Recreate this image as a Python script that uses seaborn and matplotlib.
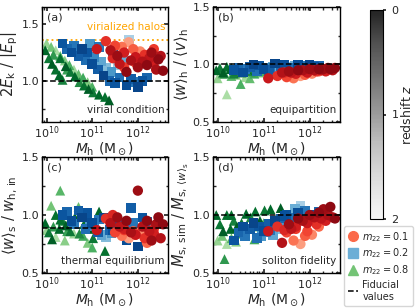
import numpy as np
import seaborn as sns
import matplotlib.pyplot as plt
from matplotlib.colors import ListedColormap
from matplotlib.lines import Line2D
from matplotlib.ticker import MultipleLocator
import matplotlib as mpl

# ---- data: log10 halo mass, redshift and the four ratios per species ----
green_logm = [9.97, 10.05, 10.12, 10.2, 10.28, 10.35,
              10.3, 10.42, 10.52, 10.62, 10.72, 10.82, 10.92, 11.02, 11.15, 11.28, 11.37,
              10.0, 10.1, 10.2, 10.3, 10.4, 10.5, 10.6, 10.7, 10.8, 10.9, 11.0,
              10.15, 10.45]
green_z = [0.1, 0.3, 0.0, 0.2, 0.1, 0.4,
           0.2, 0.0, 0.3, 0.1, 0.5, 0.2, 0.0, 0.3, 0.1, 0.2, 0.0,
           1.6, 1.3, 1.8, 1.1, 1.5, 1.0, 1.7, 1.2, 0.9, 1.4, 1.0,
           0.7, 0.8]
green_a = [1.27, 1.2, 1.15, 1.1, 1.05, 1.01,
           1.2, 1.13, 1.08, 1.04, 0.99, 0.96, 0.93, 0.9, 0.88, 0.86, 0.83,
           1.33, 1.3, 1.27, 1.22, 1.18, 1.14, 1.1, 1.06, 1.03, 0.99, 0.95,
           1.23, 1.1]
green_b = [0.95, 0.97, 0.93, 0.98, 0.96, 0.92,
           0.97, 0.95, 0.93, 0.96, 0.94, 0.95, 0.97, 0.96, 0.94, 0.95, 0.97,
           0.88, 0.92, 0.74, 0.9, 0.91, 0.83, 0.89, 0.88, 0.92, 0.93, 0.94,
           0.92, 0.94]
green_c = [0.93, 0.85, 0.79, 1.0, 0.88, 0.95,
           0.96, 0.91, 0.86, 0.98, 0.84, 0.92, 0.88, 0.8, 1.03, 0.69, 0.9,
           0.87, 1.08, 0.81, 1.21, 0.78, 0.95, 0.84, 1.07, 0.82, 0.76, 0.72,
           0.9, 0.86]
green_d = [1.0, 0.92, 0.86, 1.0, 0.88, 0.95,
           1.0, 0.9, 0.93, 1.01, 0.98, 1.03, 0.95, 1.04, 1.05, 0.97, 1.06,
           0.78, 0.82, 0.75, 0.8, 0.77, 0.86, 0.83, 0.88, 0.79, 0.9, 0.93,
           0.62, 0.84]

blue_logm = [10.35, 10.45, 10.55, 10.6, 10.7, 10.78, 10.85, 10.9, 11.0, 11.05,
             11.12, 11.2, 11.25, 11.3, 11.38, 11.42, 11.5, 11.55, 11.6, 11.68,
             11.75, 11.8, 11.85, 11.9, 12.0, 12.1, 11.15, 10.95, 11.45, 12.2]
blue_z = [0.2, 0.4, 0.1, 0.6, 0.3, 0.0, 0.5, 0.2, 0.1, 0.8,
          0.3, 1.2, 0.0, 1.5, 0.4, 1.0, 0.2, 1.7, 0.5, 1.3,
          0.1, 1.8, 0.3, 0.6, 0.0, 0.2, 0.6, 1.0, 0.15, 0.4]
blue_a = [1.33, 1.28, 1.25, 1.31, 1.22, 1.28, 1.18, 1.25, 1.15, 1.21,
          1.1, 1.17, 1.05, 1.12, 1.0, 1.08, 0.98, 1.14, 1.03, 1.2,
          0.96, 1.36, 1.02, 0.99, 0.95, 1.0, 1.3, 1.33, 1.26, 1.03]
blue_b = [0.95, 0.97, 0.93, 0.96, 0.98, 1.0, 0.94, 0.99, 0.96, 0.97,
          0.95, 0.98, 1.01, 0.97, 0.94, 0.99, 0.96, 0.98, 0.97, 0.99,
          1.0, 0.98, 0.96, 0.99, 1.0, 0.98, 0.95, 0.97, 1.0, 0.99]
blue_c = [1.0, 1.03, 0.95, 0.92, 1.04, 0.98, 0.88, 1.02, 0.93, 0.9,
          0.85, 0.83, 0.98, 0.81, 0.87, 0.84, 0.95, 0.86, 0.92, 0.88,
          0.78, 0.84, 1.06, 0.93, 0.73, 0.98, 0.96, 0.91, 0.87, 0.94]
blue_d = [0.78, 0.85, 0.9, 0.82, 0.88, 0.93, 0.8, 0.9, 0.86, 0.85,
          0.92, 0.83, 0.95, 0.88, 0.97, 0.9, 1.0, 0.93, 0.98, 1.05,
          1.02, 1.08, 0.96, 1.04, 0.98, 1.0, 0.87, 0.82, 0.99, 1.03]

red_logm = [11.1, 11.3, 11.4, 11.5, 11.55, 11.6, 11.65, 11.7, 11.75, 11.8,
            11.85, 11.9, 11.95, 12.0, 12.05, 12.1, 12.15, 12.2, 12.25, 12.3,
            12.35, 12.4, 12.45, 12.5, 12.55, 11.45, 11.7, 11.95, 12.2, 12.35]
red_z = [0.5, 0.8, 0.3, 1.0, 0.1, 0.4, 1.4, 0.6, 0.0, 1.8,
         0.2, 1.2, 0.5, 0.1, 1.6, 0.3, 0.8, 0.0, 0.4, 0.1,
         0.6, 0.2, 0.0, 0.3, 0.0, 0.7, 0.9, 1.0, 1.3, 0.9]
red_a = [1.28, 1.35, 1.27, 1.31, 1.22, 1.15, 1.3, 1.25, 1.08, 1.34,
         1.18, 1.28, 1.21, 1.12, 1.26, 1.17, 1.23, 1.14, 1.2, 1.25,
         1.16, 1.1, 1.19, 1.22, 1.09, 1.2, 1.12, 1.16, 1.22, 1.28]
red_b = [0.88, 0.9, 0.93, 0.89, 0.94, 0.93, 0.88, 0.92, 0.95, 0.9,
         0.95, 0.91, 0.93, 0.96, 0.92, 0.95, 0.94, 0.96, 0.95, 0.96,
         0.94, 0.97, 0.96, 0.95, 0.97, 0.93, 0.92, 0.93, 0.94, 0.95]
red_c = [0.87, 0.97, 0.93, 0.85, 0.98, 0.9, 0.82, 0.88, 0.95, 0.8,
         0.85, 0.86, 0.83, 1.21, 0.84, 0.9, 0.8, 0.95, 0.86, 0.78,
         0.84, 0.92, 0.98, 0.8, 0.92, 1.0, 0.87, 0.83, 0.76, 0.88]
red_d = [0.86, 0.9, 0.76, 0.85, 0.92, 0.88, 0.78, 0.9, 0.97, 0.75,
         0.95, 0.82, 0.93, 1.0, 0.83, 0.98, 0.92, 1.02, 0.97, 1.05,
         0.95, 1.0, 1.07, 0.98, 0.97, 0.87, 0.88, 0.86, 0.9, 1.0]

fiducial = [1.0, 1.0, 0.89, 1.0]
virialized = 1.36

panel_tags = ["(a)", "(b)", "(c)", "(d)"]
panel_notes = ["virial condition", "equipartition", "thermal equilibrium", "soliton fidelity"]
ylabels = [r"$2E_\mathrm{k}\ /\ |E_\mathrm{p}|$",
           r"$\langle w\rangle_\mathrm{h}\ /\ \langle v\rangle_\mathrm{h}$",
           r"$\langle w\rangle_\mathrm{s}\ /\ w_\mathrm{h,\,in}$",
           r"$M_\mathrm{s,\,sim}\ /\ M_{\mathrm{s},\,\langle w\rangle_\mathrm{s}}$"]


def trunc_cmap(name, hi=0.92, lo=0.28):
    # z = 0 -> dark end, z = 2 -> light end
    return ListedColormap(plt.get_cmap(name)(np.linspace(hi, lo, 256)))


sns.set_theme(style="ticks")
plt.rcParams.update({
    "font.family": ["DejaVu Sans"],
    "xtick.direction": "in", "ytick.direction": "in",
    "xtick.top": True, "ytick.right": True,
    "xtick.labelsize": 8, "ytick.labelsize": 8,
    "axes.linewidth": 1.0, "axes.edgecolor": "black",
    "mathtext.fontset": "dejavusans",
})

fig = plt.figure(figsize=(4.15, 3.08), dpi=100)
boxes = [[0.1012, 0.6039, 0.3036, 0.3734],
         [0.5133, 0.6039, 0.3060, 0.3734],
         [0.1012, 0.1136, 0.3036, 0.3766],
         [0.5133, 0.1136, 0.3060, 0.3766]]

groups = [
    (red_logm, red_z, [red_a, red_b, red_c, red_d], "Reds", "o", 55),
    (blue_logm, blue_z, [blue_a, blue_b, blue_c, blue_d], "Blues", "s", 48),
    (green_logm, green_z, [green_a, green_b, green_c, green_d], "Greens", "^", 50),
]

for k in range(4):
    ax = fig.add_axes(boxes[k])
    for logm, z, ys, cmap_name, mk, size in reversed(groups):
        order = np.argsort(z)[::-1]  # light (high z) first, dark on top
        x = 10 ** np.asarray(logm)[order]
        y = np.asarray(ys[k])[order]
        hz = np.asarray(z)[order]
        sns.scatterplot(x=x, y=y, hue=hz, palette=trunc_cmap(cmap_name),
                        hue_norm=(0, 2), marker=mk, s=size, linewidth=0,
                        legend=False, ax=ax, zorder=2)
    ax.axhline(fiducial[k], color="black", ls="--", lw=1.1, zorder=3)
    ax.set_xscale("log")
    ax.set_xlim(10 ** 9.9, 10 ** 12.66)
    if k == 0:
        ax.set_ylim(0.64, 1.65)
        ax.axhline(virialized, color="orange", ls=":", lw=1.3, zorder=1)
        ax.text(0.98, 0.83, "virialized halos", color="orange", fontsize=7.5,
                ha="right", va="center", transform=ax.transAxes)
    else:
        ax.set_ylim(0.5, 1.5)
    ax.yaxis.set_major_locator(MultipleLocator(0.5))
    ax.yaxis.set_minor_locator(MultipleLocator(0.25))
    ax.set_xticks([1e10, 1e11, 1e12])
    ax.tick_params(which="both", direction="in", top=True, right=True, length=3)
    ax.tick_params(which="minor", length=1.8)
    ax.tick_params(axis="both", pad=2)
    ax.text(0.04, 0.95, panel_tags[k], fontsize=8, ha="left", va="top",
            transform=ax.transAxes)
    ax.text(0.97, 0.1, panel_notes[k], fontsize=7.5, ha="right", va="center",
            transform=ax.transAxes)
    ax.set_ylabel(ylabels[k], fontsize=10.5, labelpad=1)
    ax.set_xlabel(r"$M_\mathrm{h}\ (\mathrm{M}_\odot)$", fontsize=10, labelpad=-1)

# redshift colour bar
cax = fig.add_axes([370 / 415, (308 - 219) / 308, 13 / 415, 209 / 308])
grey = ListedColormap(plt.get_cmap("Greys")(np.linspace(0.88, 0.08, 256)))
sm = mpl.cm.ScalarMappable(norm=mpl.colors.Normalize(0, 2), cmap=grey)
cb = fig.colorbar(sm, cax=cax, ticks=[0, 1, 2])
cax.invert_yaxis()
cax.tick_params(labelsize=8, direction="out", length=2.5)
cb.set_label(r"redshift $z$", fontsize=9, labelpad=1)
cb.outline.set_linewidth(0.8)

handles = [
    Line2D([], [], marker="o", ls="", color="#fb6a4a", markersize=7,
           label=r"$m_{22} = 0.1$"),
    Line2D([], [], marker="s", ls="", color="#6baed6", markersize=6.5,
           label=r"$m_{22} = 0.2$"),
    Line2D([], [], marker="^", ls="", color="#74c476", markersize=7,
           label=r"$m_{22} = 0.8$"),
    Line2D([], [], ls="--", color="black", lw=1.1, label="Fiducial\nvalues"),
]
fig.legend(handles=handles, loc="upper left", bbox_to_anchor=(344 / 415, 1 - 226 / 308),
           fontsize=7, frameon=True, handlelength=1.0, handletextpad=0.5,
           borderpad=0.4, labelspacing=0.3, borderaxespad=0)

fig.savefig("out.png", dpi=100)
